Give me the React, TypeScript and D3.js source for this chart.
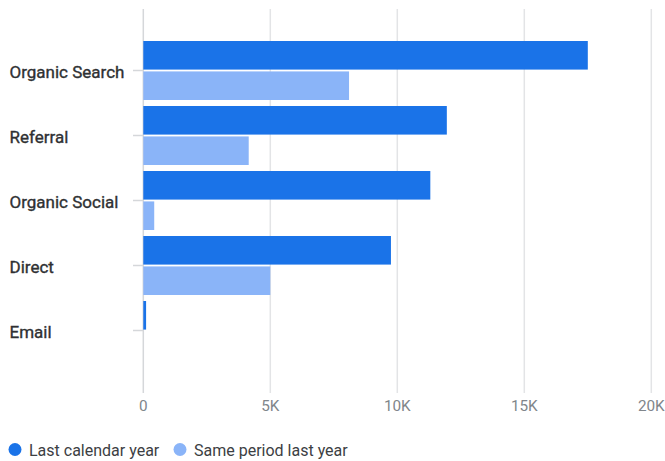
import React from "react";
import * as d3 from "d3";

const categories = ["Organic Search", "Referral", "Organic Social", "Direct", "Email"];
const lastCalendarYear = [17500, 11950, 11300, 9750, 110];
const samePeriodLastYear = [8100, 4150, 430, 5000, 0];
const seriesNames = ["Last calendar year", "Same period last year"];
const seriesColors = ["#1a73e8", "#8ab4f8"];
const xTicks = [0, 5000, 10000, 15000, 20000];
const xTickLabels = ["0", "5K", "10K", "15K", "20K"];

export default function App() {
  const W = 665;
  const H = 461;
  const x = d3.scaleLinear().domain([0, 20000]).range([143.3, 651.3]);
  const y = d3
    .scaleBand<string>()
    .domain(categories)
    .range([38, 363])
    .paddingInner(6 / 65)
    .paddingOuter(3 / 65);
  const inner = d3
    .scaleBand<number>()
    .domain([0, 1])
    .range([0, y.bandwidth()])
    .paddingInner(0.06);
  const series = [lastCalendarYear, samePeriodLastYear];
  const font = "Roboto, 'Noto Sans', sans-serif";

  return (
    <svg
      width={W}
      height={H}
      style={{ position: "absolute", left: 0, top: 0, background: "#fff" }}
      fontFamily={font}
    >
      {xTicks.map((t, i) => (
        <g key={t}>
          <line x1={x(t)} x2={x(t)} y1={9} y2={393} stroke={i === 0 ? "#d5d7da" : "#e3e4e6"} strokeWidth={1.5} />
          <text x={x(t)} y={410.5} textAnchor="middle" fontSize={15.3} fill="#80868b">
            {xTickLabels[i]}
          </text>
        </g>
      ))}
      {categories.map((c) => {
        const cy = (y(c) as number) + y.bandwidth() / 2;
        return (
          <g key={c}>
            <line x1={133} x2={143} y1={cy} y2={cy} stroke="#d5d7da" strokeWidth={1.5} />
            <text
              x={9.5}
              y={cy + 7.2}
              fontSize={17}
              fill="#2f3133"
              stroke="#2f3133"
              strokeWidth={0.35}
            >
              {c}
            </text>
          </g>
        );
      })}
      {series.map((vals, si) =>
        categories.map((c, ci) => {
          const w = x(vals[ci]) - x(0);
          if (w <= 0) return null;
          return (
            <rect
              key={c + si}
              x={x(0)}
              y={(y(c) as number) + (inner(si) as number)}
              width={Math.max(w, 2)}
              height={inner.bandwidth()}
              fill={seriesColors[si]}
            />
          );
        })
      )}
      {seriesNames.map((n, i) => {
        const lx = [15, 180][i];
        return (
          <g key={n}>
            <circle cx={lx} cy={449.5} r={6.5} fill={seriesColors[i]} />
            <text x={lx + 14} y={455.5} fontSize={16} fill="#3c4043">
              {n}
            </text>
          </g>
        );
      })}
    </svg>
  );
}
